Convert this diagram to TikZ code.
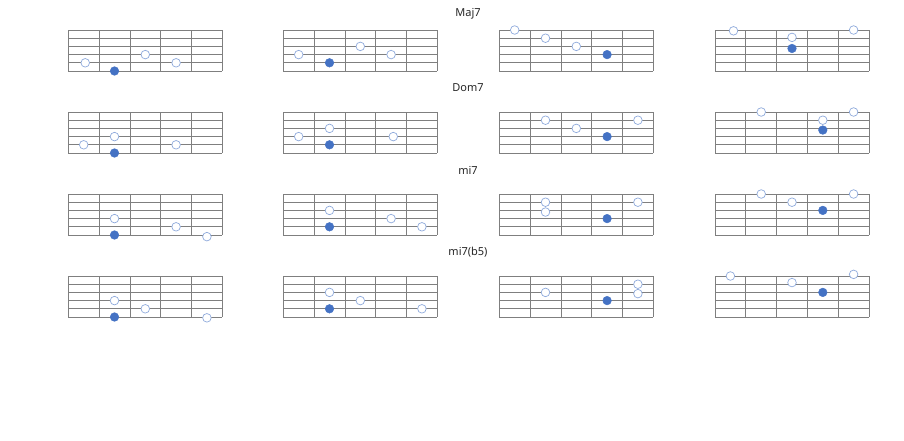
\documentclass[tikz,border=0pt]{standalone}
\usepackage{fontspec}
\setmainfont{Noto Sans}
\definecolor{gridc}{HTML}{7F7F7F}
\definecolor{rootc}{HTML}{4472C4}
\definecolor{dotedge}{HTML}{8FAADC}
\tikzset{
  fbline/.style={draw=gridc, line width=0.75pt},
  wdot/.style={circle, draw=dotedge, fill=white, line width=0.7pt, minimum size=8.6pt, inner sep=0pt},
  bdot/.style={circle, fill=rootc, draw=rootc, line width=0.5pt, minimum size=8.6pt, inner sep=0pt},
  ttl/.style={font=\fontsize{11}{13}\selectfont, text=black!85, inner sep=0pt}
}
\newcommand{\fboardgrid}{%
  \foreach \i in {0,...,5} \draw[fbline] (0,8.2*\i) -- (154,8.2*\i);
  \foreach \j in {0,...,5} \draw[fbline] (30.8*\j,0) -- (30.8*\j,41);}
\newcommand{\dd}[4]{\node[#1] (#2) at ({15.4+30.8*#3},{8.2*#4}) {};}
\begin{document}
\begin{tikzpicture}[x=1pt,y=-1pt]
\useasboundingbox (0,0) rectangle (904,440);
% titles
\node[ttl] (t1) at (468,14) {Maj7};
\node[ttl] (t2) at (468,88) {Dom7};
\node[ttl] (t3) at (468,170) {mi7};
\node[ttl] (t4) at (468,252) {mi7(b5)};
% Row 1
\begin{scope}[shift={(68.3,30)}]\fboardgrid
 \dd{wdot}{d1a}{0.05}{4}\dd{bdot}{d1b}{1}{5}\dd{wdot}{d1c}{2}{3}\dd{wdot}{d1d}{3}{4}\end{scope}
\begin{scope}[shift={(283.3,30)}]\fboardgrid
 \dd{wdot}{d2a}{0}{3}\dd{bdot}{d2b}{1}{4}\dd{wdot}{d2c}{2}{2}\dd{wdot}{d2d}{3}{3}\end{scope}
\begin{scope}[shift={(499.3,30)}]\fboardgrid
 \dd{wdot}{d3a}{0}{0}\dd{wdot}{d3b}{1}{1}\dd{wdot}{d3c}{2}{2}\dd{bdot}{d3d}{3}{3}\end{scope}
\begin{scope}[shift={(715,30)}]\fboardgrid
 \dd{wdot}{d4a}{0.1}{0.1}\dd{wdot}{d4b}{2}{0.9}\dd{bdot}{d4c}{2}{2.25}\dd{wdot}{d4d}{4}{0}\end{scope}
% Row 2
\begin{scope}[shift={(68.3,112)}]\fboardgrid
 \dd{wdot}{d5a}{0}{4}\dd{wdot}{d5b}{1}{3}\dd{bdot}{d5c}{1}{5}\dd{wdot}{d5d}{3}{4}\end{scope}
\begin{scope}[shift={(283.3,112)}]\fboardgrid
 \dd{wdot}{d6a}{0}{3}\dd{wdot}{d6b}{1}{2}\dd{bdot}{d6c}{1}{4}\dd{wdot}{d6d}{3.07}{3}\end{scope}
\begin{scope}[shift={(499.3,112)}]\fboardgrid
 \dd{wdot}{d7a}{1}{1}\dd{wdot}{d7b}{2}{2}\dd{bdot}{d7c}{3}{3}\dd{wdot}{d7d}{4}{1}\end{scope}
\begin{scope}[shift={(715,112)}]\fboardgrid
 \dd{wdot}{d8a}{1}{0}\dd{wdot}{d8b}{3}{1}\dd{bdot}{d8c}{3}{2.2}\dd{wdot}{d8d}{4}{0}\end{scope}
% Row 3
\begin{scope}[shift={(68.3,194)}]\fboardgrid
 \dd{wdot}{d9a}{1}{3}\dd{bdot}{d9b}{1}{5}\dd{wdot}{d9c}{3}{4}\dd{wdot}{d9d}{4}{5.2}\end{scope}
\begin{scope}[shift={(283.3,194)}]\fboardgrid
 \dd{wdot}{d10a}{1}{2}\dd{bdot}{d10b}{1}{4}\dd{wdot}{d10c}{3}{3}\dd{wdot}{d10d}{4}{4}\end{scope}
\begin{scope}[shift={(499.3,194)}]\fboardgrid
 \dd{wdot}{d11a}{1}{1}\dd{wdot}{d11b}{1}{2.2}\dd{bdot}{d11c}{3}{3}\dd{wdot}{d11d}{4}{1}\end{scope}
\begin{scope}[shift={(715,194)}]\fboardgrid
 \dd{wdot}{d12a}{1}{0}\dd{wdot}{d12b}{2}{1}\dd{bdot}{d12c}{3}{2}\dd{wdot}{d12d}{4}{0}\end{scope}
% Row 4
\begin{scope}[shift={(68.3,276)}]\fboardgrid
 \dd{wdot}{d13a}{1}{3}\dd{bdot}{d13b}{1}{5}\dd{wdot}{d13c}{2}{4}\dd{wdot}{d13d}{4}{5.1}\end{scope}
\begin{scope}[shift={(283.3,276)}]\fboardgrid
 \dd{wdot}{d14a}{1}{2}\dd{bdot}{d14b}{1}{4}\dd{wdot}{d14c}{2}{3}\dd{wdot}{d14d}{4}{4}\end{scope}
\begin{scope}[shift={(499.3,276)}]\fboardgrid
 \dd{wdot}{d15a}{1}{2}\dd{bdot}{d15b}{3}{3}\dd{wdot}{d15c}{4}{1}\dd{wdot}{d15d}{4}{2.15}\end{scope}
\begin{scope}[shift={(715,276)}]\fboardgrid
 \dd{wdot}{d16a}{0}{0}\dd{wdot}{d16b}{2}{0.8}\dd{bdot}{d16c}{3}{2}\dd{wdot}{d16d}{4}{-0.2}\end{scope}
\end{tikzpicture}
\end{document}
